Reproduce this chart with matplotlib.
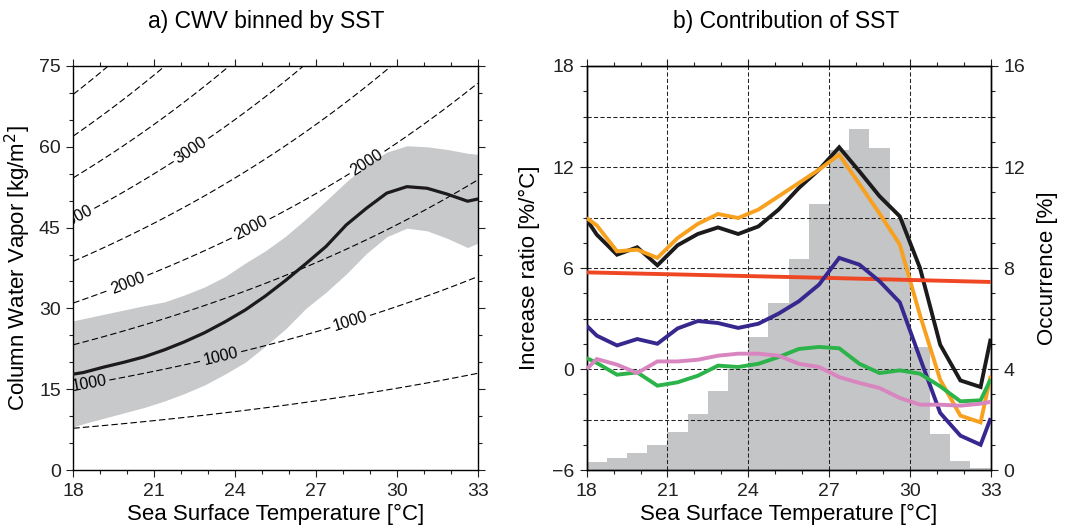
import numpy as np
import matplotlib
matplotlib.use("Agg")
import matplotlib.pyplot as plt
from matplotlib.ticker import MultipleLocator

plt.rcParams["font.family"] = ["Liberation Sans", "DejaVu Sans"]
plt.rcParams["axes.linewidth"] = 1.0

# ---------------- shared SST sampling (bin centres + end points) ----------------
sst_pts = [18.0, 18.375, 19.125, 19.875, 20.625, 21.375, 22.125, 22.875, 23.625,
           24.375, 25.125, 25.875, 26.625, 27.375, 28.125, 28.875, 29.625,
           30.375, 31.125, 31.875, 32.625, 33.0]

# ---------------- panel a: CWV binned by SST ----------------
cwv_mean = [17.8, 18.1, 19.1, 20.0, 21.0, 22.3, 23.8, 25.5, 27.5, 29.7, 32.3,
            35.2, 38.3, 41.5, 45.5, 48.6, 51.4, 52.6, 52.3, 51.2, 49.9, 50.3]
cwv_upper = [27.7, 28.1, 28.9, 29.7, 30.5, 31.2, 32.5, 34.0, 35.9, 38.4, 40.7,
             43.4, 46.6, 50.0, 53.5, 56.7, 59.0, 60.2, 60.0, 59.5, 58.8, 58.6]
cwv_lower = [8.0, 8.6, 9.6, 10.6, 11.6, 12.8, 14.2, 15.8, 17.8, 20.0, 23.0,
             26.2, 30.0, 33.0, 36.4, 40.2, 43.3, 44.9, 44.4, 43.0, 41.3, 42.1]

# background isolines: CWV of the 2000 isoline at the two ends of the SST range
iso_plain = [500, 1500, 2500, 3500, 4000, 4500]
iso_labelled = [1000, 2000, 3000]
iso_ref_level = 2000
iso_ref_cwv_18 = 31.0
iso_ref_cwv_33 = 71.8
iso_label_sst = {1000: [18.58, 23.48, 28.27],
                 2000: [20.03, 24.6, 28.9],
                 3000: [18.1, 22.37]}

# ---------------- panel b: contribution of SST ----------------
hist_edges = [18.0, 18.75, 19.5, 20.25, 21.0, 21.75, 22.5, 23.25, 24.0, 24.75,
              25.5, 26.25, 27.0, 27.75, 28.5, 29.25, 30.0, 30.75, 31.5, 32.25, 33.0]
occurrence = [0.33, 0.48, 0.69, 1.0, 1.51, 2.23, 3.14, 4.0, 5.25, 6.6, 8.36,
              10.52, 12.67, 13.5, 12.74, 9.95, 4.87, 1.42, 0.37, 0.07]

ratio_black = [8.87, 7.98, 6.79, 7.23, 6.16, 7.35, 8.02, 8.41, 8.02, 8.47, 9.47,
               10.75, 11.84, 13.17, 11.74, 10.26, 9.07, 6.0, 1.44, -0.68, -1.07, 1.8]
ratio_orange = [8.97, 8.53, 6.99, 7.09, 6.60, 7.78, 8.62, 9.21, 8.97, 9.47, 10.26,
                11.05, 11.84, 12.73, 10.99, 9.23, 7.39, 3.2, -0.64, -2.77, -3.17, -0.4]
ratio_blue = [2.57, 1.98, 1.40, 1.78, 1.50, 2.41, 2.85, 2.73, 2.44, 2.69, 3.29,
              4.02, 5.01, 6.60, 6.20, 5.21, 3.96, 0.65, -2.61, -3.96, -4.50, -2.92]
ratio_green = [0.65, 0.36, -0.34, -0.20, -0.99, -0.79, -0.40, 0.20, 0.12, 0.31, 0.71,
               1.19, 1.31, 1.23, 0.31, -0.24, -0.08, -0.28, -1.03, -1.92, -1.86, -0.6]
ratio_pink = [0.0, 0.59, 0.26, -0.24, 0.45, 0.45, 0.55, 0.79, 0.91, 0.91, 0.79,
              0.31, 0.12, -0.48, -0.83, -1.13, -1.72, -2.12, -2.12, -2.18, -2.06, -1.95]
red_sst = [18.0, 27.0, 33.0]
ratio_red = [5.74, 5.41, 5.17]

C_BLACK = "#1c1a1a"
C_ORANGE = "#f7a11f"
C_RED = "#ef4623"
C_BLUE = "#36288f"
C_GREEN = "#2cb34a"
C_PINK = "#d985c0"
C_BAND = "#c8c9cb"
C_HIST = "#c4c5c7"

FS_TICK = 14
FS_LABEL = 16
FS_TITLE = 16.5

fig = plt.figure(figsize=(10.65, 5.32), dpi=100)
ax_a = fig.add_axes([0.06883, 0.11654, 0.37972, 0.75940])
ax_b = fig.add_axes([0.55089, 0.11654, 0.37934, 0.75940])


def style_ticks(ax):
    ax.tick_params(which="both", direction="out", width=0.8, colors="#222222",
                   labelsize=FS_TICK, pad=4)
    ax.tick_params(which="major", length=5)
    ax.tick_params(which="minor", length=3)


# ---- panel a ----
ax_a.fill_between(sst_pts, cwv_lower, cwv_upper, color=C_BAND, lw=0, zorder=1)

tt, ww = np.meshgrid(np.linspace(18, 33, 301), np.linspace(0, 75, 301))
growth = np.log(iso_ref_cwv_33 / iso_ref_cwv_18) / 15.0


def iso_value(t, w):
    return iso_ref_level * w / (iso_ref_cwv_18 * np.exp(growth * (t - 18.0)))


def iso_cwv(level, t):
    return level / iso_ref_level * iso_ref_cwv_18 * np.exp(growth * (t - 18.0))


iso_style = dict(colors="k", linewidths=0.8, linestyles=[(0, (5.8, 2.8))], zorder=2)
ax_a.contour(tt, ww, iso_value(tt, ww), levels=iso_plain, **iso_style)
cs = ax_a.contour(tt, ww, iso_value(tt, ww), levels=iso_labelled, **iso_style)
manual = [(t, iso_cwv(lv, t)) for lv in iso_labelled for t in iso_label_sst[lv]]
texts = ax_a.clabel(cs, manual=manual, fmt="%d", fontsize=11.5, inline=True,
                    inline_spacing=3)
for t in texts:
    t.set_clip_path(ax_a.patch)

ax_a.plot(sst_pts, cwv_mean, color=C_BLACK, lw=2.3, zorder=3)

ax_a.set_xlim(18, 33)
ax_a.set_ylim(0, 75)
ax_a.xaxis.set_major_locator(MultipleLocator(3))
ax_a.xaxis.set_minor_locator(MultipleLocator(1))
ax_a.yaxis.set_major_locator(MultipleLocator(15))
ax_a.yaxis.set_minor_locator(MultipleLocator(5))
style_ticks(ax_a)
ax_a.tick_params(which="both", top=True, right=True)
ax_a.set_xlabel("Sea Surface Temperature [°C]", fontsize=FS_LABEL)
ax_a.set_ylabel("Column Water Vapor [kg/m$^2$]", fontsize=FS_LABEL)
ax_a.xaxis.set_label_coords(0.5, -0.085)
ax_a.yaxis.set_label_coords(-0.10, 0.5)

# ---- panel b ----
ax_occ = ax_b.twinx()
ax_b.set_zorder(2)
ax_occ.set_zorder(1)
ax_b.patch.set_visible(False)

ax_occ.stairs(occurrence, hist_edges, fill=True, color=C_HIST, lw=0)
ax_occ.set_ylim(0, 16)
ax_occ.yaxis.set_major_locator(MultipleLocator(4))
ax_occ.yaxis.set_minor_locator(MultipleLocator(1))
style_ticks(ax_occ)
ax_occ.set_ylabel("Occurrence [%]", fontsize=FS_LABEL)
ax_occ.yaxis.set_label_coords(1.115, 0.5)

grid_kw = dict(color="#222222", lw=0.75, ls=(0, (4, 2.2)), zorder=1)
for v in [15, 12, 9, 6, 3, 0, -3]:
    ax_b.axhline(v, **grid_kw)
for v in [21, 24, 27, 30]:
    ax_b.axvline(v, **grid_kw)

line_kw = dict(lw=2.8, solid_joinstyle="miter", solid_capstyle="butt")
ax_b.plot(sst_pts, ratio_black, color=C_BLACK, zorder=3, **line_kw)
ax_b.plot(sst_pts, ratio_orange, color=C_ORANGE, zorder=4, **line_kw)
ax_b.plot(red_sst, ratio_red, color=C_RED, zorder=4, **line_kw)
ax_b.plot(sst_pts, ratio_blue, color=C_BLUE, zorder=5, **line_kw)
ax_b.plot(sst_pts, ratio_green, color=C_GREEN, zorder=5, **line_kw)
ax_b.plot(sst_pts, ratio_pink, color=C_PINK, zorder=6, **line_kw)

ax_b.set_xlim(18, 33)
ax_b.set_ylim(-6, 18)
ax_b.xaxis.set_major_locator(MultipleLocator(3))
ax_b.xaxis.set_minor_locator(MultipleLocator(1))
ax_b.yaxis.set_major_locator(MultipleLocator(6))
ax_b.yaxis.set_minor_locator(MultipleLocator(1.5))
style_ticks(ax_b)
ax_b.tick_params(which="both", top=True)
ax_b.set_xlabel("Sea Surface Temperature [°C]", fontsize=FS_LABEL)
ax_b.set_ylabel("Increase ratio [%/°C]", fontsize=FS_LABEL)
ax_b.xaxis.set_label_coords(0.5, -0.085)
ax_b.yaxis.set_label_coords(-0.115, 0.5)

fig.text(0.2502, 0.9468, "a) CWV binned by SST", ha="center", va="baseline",
         fontsize=FS_TITLE)
fig.text(0.7385, 0.9468, "b) Contribution of SST", ha="center", va="baseline",
         fontsize=FS_TITLE)

fig.savefig("out.png", dpi=100)
